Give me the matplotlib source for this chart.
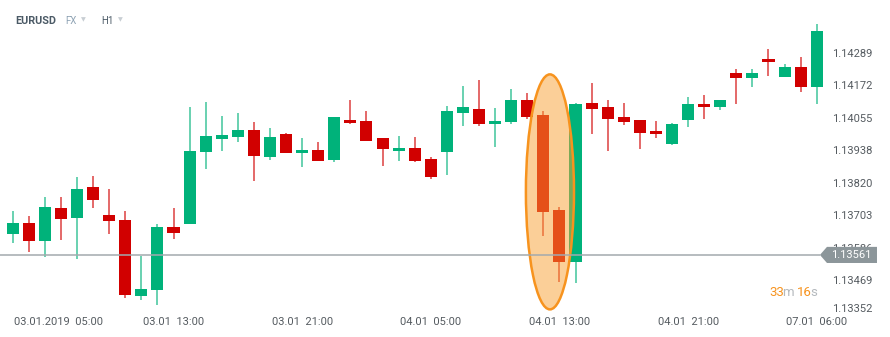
import matplotlib
matplotlib.use('Agg')
import matplotlib.pyplot as plt
import matplotlib.transforms as mtransforms
from matplotlib.patches import Ellipse, Polygon

plt.rcParams['font.family'] = ['Roboto', 'DejaVu Sans']

# EURUSD H1 candles, 03.01.2019 03:00 onwards
opens = [1.13636, 1.13677, 1.13610, 1.13729, 1.13695, 1.13807, 1.13705, 1.13687, 1.13413, 1.13434,
         1.13660, 1.13671, 1.13930, 1.13979, 1.13987, 1.14010, 1.13912, 1.13996, 1.13927, 1.13939,
         1.13902, 1.14047, 1.14044, 1.13983, 1.13935, 1.13946, 1.13905, 1.13933, 1.14073, 1.14085,
         1.14031, 1.14038, 1.14119, 1.14065, 1.13722, 1.13535, 1.14108, 1.14095, 1.14058, 1.14047,
         1.14007, 1.13960, 1.14046, 1.14105, 1.14093, 1.14217, 1.14198, 1.14266, 1.14200, 1.14237,
         1.14167]
highs = [1.13719, 1.13701, 1.13770, 1.13770, 1.13840, 1.13845, 1.13797, 1.13718, 1.13556, 1.13672,
         1.13729, 1.14095, 1.14112, 1.14061, 1.14071, 1.14041, 1.14017, 1.14000, 1.13983, 1.13966,
         1.14058, 1.14119, 1.14079, 1.13983, 1.13990, 1.13987, 1.13915, 1.14097, 1.14169, 1.14191,
         1.14089, 1.14158, 1.14143, 1.14079, 1.13732, 1.14108, 1.14179, 1.14119, 1.14108, 1.14047,
         1.14043, 1.14035, 1.14130, 1.14137, 1.14119, 1.14230, 1.14230, 1.14302, 1.14248, 1.14275,
         1.14391]
lows = [1.13605, 1.13572, 1.13552, 1.13616, 1.13545, 1.13731, 1.13636, 1.13406, 1.13399, 1.13381,
        1.13619, 1.13671, 1.13871, 1.13936, 1.13966, 1.13828, 1.13903, 1.13927, 1.13879, 1.13899,
        1.13894, 1.14031, 1.13972, 1.13881, 1.13900, 1.13894, 1.13833, 1.13848, 1.14024, 1.14026,
        1.13951, 1.14031, 1.14049, 1.13630, 1.13463, 1.13461, 1.13997, 1.13935, 1.14028, 1.13943,
        1.13981, 1.13957, 1.14022, 1.14049, 1.14083, 1.14105, 1.14164, 1.14204, 1.14200, 1.14146,
        1.14105]
closes = [1.13677, 1.13610, 1.13732, 1.13691, 1.13797, 1.13760, 1.13684, 1.13416, 1.13439, 1.13660,
          1.13641, 1.13935, 1.13989, 1.13993, 1.14010, 1.13916, 1.13985, 1.13927, 1.13939, 1.13899,
          1.14058, 1.14037, 1.13972, 1.13942, 1.13946, 1.13898, 1.13843, 1.14080, 1.14095, 1.14031,
          1.14044, 1.14119, 1.14059, 1.13717, 1.13535, 1.14104, 1.14086, 1.14051, 1.14038, 1.14001,
          1.13997, 1.14033, 1.14104, 1.14092, 1.14119, 1.14198, 1.14217, 1.14257, 1.14237, 1.14164,
          1.14367]

time_ticks = [2, 10, 18, 26, 34, 42, 50]
time_labels = ['03.01.2019  05:00', '03.01  13:00', '03.01  21:00', '04.01  05:00',
               '04.01  13:00', '04.01  21:00', '07.01  06:00']
price_ticks = [1.14289, 1.14172, 1.14055, 1.13938, 1.13820, 1.13703, 1.13586, 1.13469, 1.13352]
last_price = 1.13561
highlight = [33, 34]   # the two candles inside the orange ellipse

GREEN = '#00b27a'
RED = '#d10000'
GREY_TXT = '#555b60'

fig = plt.figure(figsize=(8.9, 3.37), dpi=100)
ax = fig.add_axes([0, 0.0682, 0.9303, 0.9021])

n = len(opens)
xs = list(range(n))
colors = [GREEN if c >= o else RED for o, c in zip(opens, closes)]
bottoms = [min(o, c) for o, c in zip(opens, closes)]
heights = [max(abs(c - o), 0.00003) for o, c in zip(opens, closes)]

ax.vlines(xs, lows, highs, colors=colors, linewidth=1.1, alpha=0.75, zorder=2)
ax.bar(xs, heights, bottom=bottoms, width=0.75, color=colors, edgecolor='none', zorder=2.5)

# current price line
ax.hlines(last_price, -0.8, 50.2, color='#a3aaae', linewidth=1.1, zorder=4)

# highlight ellipse
ax.add_patch(Ellipse((33.41, 1.13788), width=2.99, height=0.00846,
                     facecolor=(0.976, 0.63, 0.20, 0.5), edgecolor='#f7931e',
                     linewidth=1.8, zorder=3.5, clip_on=False))

ax.set_xlim(-0.79, 50.7)
ax.set_ylim(1.133483, 1.144427)

ax.set_xticks(time_ticks)
ax.set_xticklabels(time_labels)
ax.yaxis.tick_right()
ax.set_yticks(price_ticks)
ax.set_yticklabels(['%.5f' % p for p in price_ticks])
ax.tick_params(axis='both', length=0, labelsize=8, labelcolor=GREY_TXT)
ax.tick_params(axis='x', pad=2)
ax.tick_params(axis='y', pad=3)
for s in ax.spines.values():
    s.set_visible(False)

# first date label sits clamped to the left edge, lowest price label nudged up
xl = ax.get_xticklabels()[0]
xl.set_transform(xl.get_transform() + mtransforms.ScaledTranslation(0.14, 0, fig.dpi_scale_trans))
yl = ax.get_yticklabels()[-1]
yl.set_transform(yl.get_transform() + mtransforms.ScaledTranslation(0, 0.05, fig.dpi_scale_trans))

# current price tag (covers the 1.13586 label like in the original)
tr = ax.get_yaxis_transform()
hh = 0.00029
tag = Polygon([(0.9903, last_price), (0.9988, last_price + hh), (1.0592, last_price + hh),
               (1.0592, last_price - hh), (0.9988, last_price - hh)],
              closed=True, transform=tr, facecolor='#8c969a', edgecolor='none',
              zorder=10, clip_on=False)
ax.add_patch(tag)
ax.text(1.0275, last_price, '%.5f' % last_price, transform=tr, color='white',
        fontsize=8, ha='center', va='center', zorder=11)

# countdown
t1 = ax.text(0.9287, 1.13424, '33', transform=tr, color='#f7931e', fontsize=9.5,
             va='center', ha='left', zorder=11)
t2 = ax.annotate('m', xy=(1, 0), xycoords=t1, xytext=(-1, 0), textcoords='offset points',
                 va='bottom', ha='left', color='#b4b9bd', fontsize=9.5)
t3 = ax.annotate('16', xy=(1, 0), xycoords=t2, xytext=(2, 0), textcoords='offset points',
                 va='bottom', ha='left', color='#f7931e', fontsize=9.5)
ax.annotate('s', xy=(1, 0), xycoords=t3, xytext=(-1, 0), textcoords='offset points',
            va='bottom', ha='left', color='#b4b9bd', fontsize=9.5)

# header
fig.text(15 / 890, 1 - 21 / 337, 'EURUSD', fontsize=7.8, fontweight='bold',
         color='#4b5a66', va='center')
fig.text(65 / 890, 1 - 21 / 337, 'FX', fontsize=7, color='#8fa3b4', va='center')
fig.text(81 / 890, 1 - 20 / 337, '▼', fontsize=4.5, color='#c8ced3', va='center')
fig.text(101 / 890, 1 - 21 / 337, 'H1', fontsize=7, color='#4b5a66', va='center')
fig.text(118 / 890, 1 - 20 / 337, '▼', fontsize=4.5, color='#c8ced3', va='center')

fig.savefig('out.png', dpi=100, facecolor='white')
